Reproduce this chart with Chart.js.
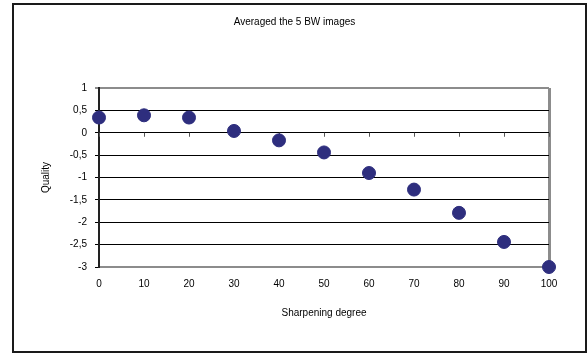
<!DOCTYPE html>
<html>
<head>
<meta charset="utf-8">
<script src="https://cdn.jsdelivr.net/npm/chart.js@4/dist/chart.umd.min.js"></script>
<style>
  html, body { margin: 0; padding: 0; background: #fff; }
  #wrap { width: 587px; height: 354px; position: relative; }
</style>
</head>
<body>
<div id="wrap"><canvas id="chart" width="587" height="354"></canvas></div>
<script>
const sharpening = [0, 10, 20, 30, 40, 50, 60, 70, 80, 90, 100];
const quality = [0.34, 0.39, 0.34, 0.04, -0.17, -0.44, -0.9, -1.27, -1.79, -2.44, -3.0];
const xTicks = [0, 10, 20, 30, 40, 50, 60, 70, 80, 90, 100];
const yTicks = [1, 0.5, 0, -0.5, -1, -1.5, -2, -2.5, -3];

const font = { family: 'Liberation Sans, Arial, sans-serif', size: 10 };

// outer frame of the chart
const frame = {
  id: 'frame',
  beforeDraw(chart) {
    const ctx = chart.ctx;
    ctx.save();
    ctx.fillStyle = '#fff';
    ctx.fillRect(0, 0, chart.width, chart.height);
    ctx.strokeStyle = '#1a1a1a';
    ctx.lineWidth = 2;
    ctx.strokeRect(13, 4, 573, 348);
    ctx.restore();
  }
};

// small x tick marks sitting on the zero line
const zeroTicks = {
  id: 'zeroTicks',
  beforeDatasetsDraw(chart) {
    const { ctx, scales } = chart;
    const y0 = scales.y.getPixelForValue(0);
    ctx.save();
    ctx.strokeStyle = '#555';
    ctx.lineWidth = 1;
    xTicks.forEach(v => {
      const px = Math.round(scales.x.getPixelForValue(v)) + 0.5;
      ctx.beginPath();
      ctx.moveTo(px, y0);
      ctx.lineTo(px, y0 + 4);
      ctx.stroke();
    });
    ctx.restore();
  }
};

new Chart(document.getElementById('chart'), {
  type: 'scatter',
  data: {
    datasets: [{
      label: 'Quality',
      data: sharpening.map((x, i) => ({ x: x, y: quality[i] })),
      backgroundColor: '#2e2e7e',
      borderColor: '#2e2e7e',
      pointRadius: 6.5,
      pointHoverRadius: 6.5,
      clip: false
    }]
  },
  options: {
    responsive: false,
    animation: false,
    layout: { padding: { left: 40, right: 38, bottom: 35, top: 0 } },
    plugins: {
      legend: { display: false },
      tooltip: { enabled: false },
      title: {
        display: true,
        text: 'Averaged the 5 BW images',
        color: '#000',
        font: { ...font, weight: 'normal' },
        padding: { top: 16, bottom: 60 }
      }
    },
    scales: {
      x: {
        type: 'linear',
        min: 0,
        max: 100,
        afterBuildTicks: (s) => { s.ticks = xTicks.map(v => ({ value: v })); },
        ticks: { color: '#000', font: font, padding: 11, maxRotation: 0 },
        grid: {
          drawTicks: false,
          color: (c) => c.tick && c.tick.value === 100 ? '#8c8c8c' : 'rgba(0,0,0,0)',
          lineWidth: (c) => c.tick && c.tick.value === 100 ? 3 : 1
        },
        border: { color: '#8c8c8c', width: 2 },
        title: {
          display: true,
          text: 'Sharpening degree',
          color: '#000',
          font: font,
          padding: { top: 6, bottom: 0 }
        }
      },
      y: {
        min: -3,
        max: 1,
        afterBuildTicks: (s) => { s.ticks = yTicks.map(v => ({ value: v })); },
        afterFit: (s) => { s.width = 59; },
        ticks: {
          color: '#000',
          font: font,
          padding: 8,
          callback: (v) => String(v).replace('.', ',')
        },
        grid: {
          tickLength: 4,
          color: (c) => c.tick && (c.tick.value === 1) ? '#8c8c8c' : '#000',
          lineWidth: (c) => c.tick && (c.tick.value === 1) ? 2 : 1
        },
        border: { color: '#222', width: 2 },
        title: {
          display: true,
          text: 'Quality',
          color: '#000',
          font: font,
          padding: 0
        }
      }
    }
  },
  plugins: [frame, zeroTicks]
});
</script>
</body>
</html>
